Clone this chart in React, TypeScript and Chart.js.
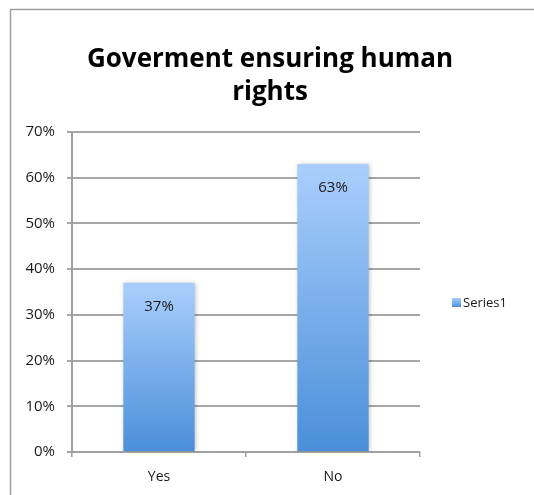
import React, { useEffect, useRef } from "react";
import { Chart, registerables } from "chart.js";

Chart.register(...registerables);

const titleLines = ["Goverment ensuring human", "rights"];
const categories = ["Yes", "No"];
const seriesName = "Series1";
const seriesValues = [0.37, 0.63];
const dataLabels = ["37%", "63%"];
const yMax = 0.7;
const yStep = 0.1;

const FONT = "'Open Sans', 'Noto Sans', sans-serif";
const TOP_COLOR = "#aacffd";
const BOTTOM_COLOR = "#4a8fd9";

function makeGradient(ctx: CanvasRenderingContext2D, top: number, bottom: number) {
  const g = ctx.createLinearGradient(0, top, 0, bottom);
  g.addColorStop(0, TOP_COLOR);
  g.addColorStop(1, BOTTOM_COLOR);
  return g;
}

export default function App() {
  const ref = useRef<HTMLCanvasElement | null>(null);

  useEffect(() => {
    if (!ref.current) return;

    const frame = {
      id: "frame",
      beforeDraw(chart: any) {
        const c = chart.ctx;
        c.save();
        c.fillStyle = "#ffffff";
        c.fillRect(0, 0, chart.width, chart.height);
        c.strokeStyle = "#a0a0a0";
        c.lineWidth = 1.5;
        c.beginPath();
        c.moveTo(10.5, chart.height);
        c.lineTo(10.5, 9.5);
        c.lineTo(chart.width, 9.5);
        c.stroke();
        // title
        c.fillStyle = "#000000";
        c.font = `bold 26px ${FONT}`;
        c.textAlign = "center";
        c.textBaseline = "middle";
        titleLines.forEach((line, i) => {
          c.fillText(line, 270, 60 + i * 33);
        });
        c.restore();
      },
    };

    const shadow = {
      id: "barShadow",
      beforeDatasetsDraw(chart: any) {
        const c = chart.ctx;
        c.save();
        c.shadowColor = "rgba(0,0,0,0.22)";
        c.shadowBlur = 4;
        c.shadowOffsetX = 1;
        c.shadowOffsetY = 0;
      },
      afterDatasetsDraw(chart: any) {
        chart.ctx.restore();
      },
    };

    const labelsAndLegend = {
      id: "labelsAndLegend",
      afterDraw(chart: any) {
        const c = chart.ctx;
        const meta = chart.getDatasetMeta(0);
        c.save();
        c.fillStyle = "#1a1a1a";
        c.font = `15px ${FONT}`;
        c.textAlign = "center";
        c.textBaseline = "middle";
        meta.data.forEach((bar: any, i: number) => {
          c.fillText(dataLabels[i], bar.x, bar.y + 24);
        });
        // legend
        const lx = 452;
        const ly = 298;
        c.fillStyle = makeGradient(c, ly, ly + 9);
        c.fillRect(lx, ly, 9, 9);
        c.fillStyle = "#1a1a1a";
        c.font = `13px ${FONT}`;
        c.textAlign = "left";
        c.fillText(chart.data.datasets[0].label, lx + 11, ly + 5);
        c.restore();
      },
    };

    const chart = new Chart(ref.current, {
      type: "bar",
      data: {
        labels: categories,
        datasets: [
          {
            label: seriesName,
            data: seriesValues,
            categoryPercentage: 1,
            barPercentage: 0.41,
            backgroundColor: (ctx: any) => {
              const ch = ctx.chart;
              const ys = ch.scales && ch.scales.y;
              if (!ys || ctx.dataIndex === undefined || !ch.chartArea) return BOTTOM_COLOR;
              const v = ctx.dataset.data[ctx.dataIndex] as number;
              const top = ys.getPixelForValue(v);
              const bottom = ys.getPixelForValue(0);
              return makeGradient(ch.ctx, top, bottom);
            },
            borderWidth: 0,
          },
        ],
      },
      options: {
        animation: false,
        responsive: false,
        maintainAspectRatio: false,
        layout: { padding: { top: 132, right: 114, bottom: 0, left: 0 } },
        plugins: {
          legend: { display: false },
          tooltip: { enabled: false },
          title: { display: false },
        },
        scales: {
          x: {
            offset: true,
            grid: {
              offset: true,
              drawOnChartArea: false,
              drawTicks: true,
              tickLength: 5,
              color: "#a0a0a0",
              lineWidth: 1.5,
            },
            border: { display: true, color: "#a0a0a0", width: 2 },
            ticks: {
              color: "#1a1a1a",
              font: { family: FONT, size: 14 },
              padding: 12,
            },
            afterFit: (scale: any) => {
              scale.height = 43;
            },
          },
          y: {
            min: 0,
            max: yMax,
            grid: {
              drawTicks: true,
              tickLength: 5,
              color: "#a6a6a6",
              lineWidth: 2,
            },
            border: { display: true, color: "#a0a0a0", width: 2 },
            ticks: {
              stepSize: yStep,
              color: "#1a1a1a",
              font: { family: FONT, size: 15 },
              padding: 12,
              callback: (v: any) => `${Math.round(Number(v) * 100)}%`,
            },
            afterFit: (scale: any) => {
              scale.width = 72;
            },
          },
        },
      },
      plugins: [frame, shadow, labelsAndLegend],
    });

    return () => chart.destroy();
  }, []);

  return (
    <div style={{ position: "fixed", left: 0, top: 0, width: 534, height: 495 }}>
      <canvas ref={ref} width={534} height={495} style={{ display: "block" }} />
    </div>
  );
}
